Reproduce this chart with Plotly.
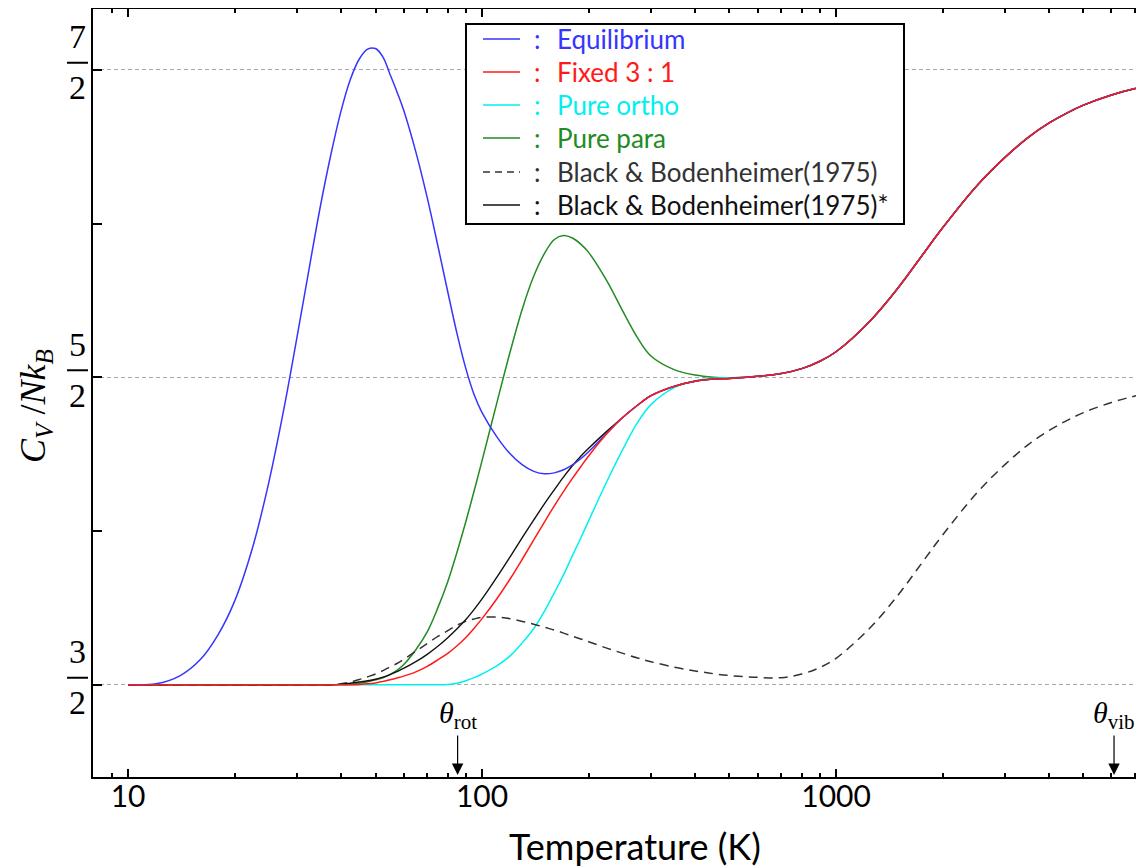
import math
import plotly.graph_objects as go

# ---------------- data ----------------
temperature = [10, 12, 14, 16, 18, 20, 22.5, 25, 27.5, 30, 32.5, 35, 37.5, 40, 42.5, 45, 47.5,
               50, 52.5, 55, 57.5, 60, 65, 70, 75, 80, 85, 90, 95, 100, 110, 120, 130, 140,
               150, 160, 170, 180, 190, 200, 225, 250, 275, 300, 350, 400, 450, 500, 600, 700,
               800, 900, 1000, 1250, 1500, 1750, 2000, 2500, 3000, 3500, 4000, 4500, 5000,
               6000, 7000, 8000]

equilibrium = [1.500, 1.503, 1.529, 1.582, 1.665, 1.772, 1.948, 2.160, 2.392, 2.630, 2.856,
               3.061, 3.230, 3.368, 3.470, 3.535, 3.567, 3.569, 3.541, 3.484, 3.428, 3.370,
               3.233, 3.084, 2.928, 2.778, 2.641, 2.528, 2.443, 2.385, 2.307, 2.251, 2.215,
               2.194, 2.186, 2.189, 2.199, 2.215, 2.235, 2.258, 2.318, 2.370, 2.409, 2.440,
               2.471, 2.487, 2.494, 2.496, 2.503, 2.512, 2.528, 2.552, 2.583, 2.684, 2.792,
               2.896, 2.986, 3.123, 3.215, 3.281, 3.327, 3.360, 3.385, 3.418, 3.439, 3.452]

fixed_3_1 = [1.500, 1.500, 1.500, 1.500, 1.500, 1.500, 1.500, 1.500, 1.500, 1.500, 1.500,
             1.500, 1.500, 1.500, 1.500, 1.501, 1.503, 1.506, 1.511, 1.516, 1.522, 1.528,
             1.542, 1.560, 1.581, 1.602, 1.627, 1.654, 1.684, 1.715, 1.779, 1.844, 1.909,
             1.971, 2.029, 2.082, 2.129, 2.171, 2.209, 2.244, 2.316, 2.370, 2.409, 2.440,
             2.471, 2.487, 2.494, 2.496, 2.503, 2.512, 2.528, 2.552, 2.583, 2.684, 2.792,
             2.896, 2.986, 3.123, 3.215, 3.281, 3.327, 3.360, 3.385, 3.418, 3.439, 3.452]

pure_ortho = [1.500, 1.500, 1.500, 1.500, 1.500, 1.500, 1.500, 1.500, 1.500, 1.500, 1.500,
              1.500, 1.500, 1.500, 1.500, 1.500, 1.500, 1.500, 1.500, 1.500, 1.500, 1.500,
              1.500, 1.500, 1.500, 1.501, 1.505, 1.513, 1.523, 1.535, 1.561, 1.594, 1.637,
              1.683, 1.739, 1.799, 1.858, 1.920, 1.977, 2.033, 2.160, 2.266, 2.353, 2.411,
              2.467, 2.489, 2.497, 2.498, 2.503, 2.512, 2.528, 2.552, 2.583, 2.684, 2.792,
              2.896, 2.986, 3.123, 3.215, 3.281, 3.327, 3.360, 3.385, 3.418, 3.439, 3.452]

pure_para = [1.500, 1.500, 1.500, 1.500, 1.500, 1.500, 1.500, 1.500, 1.500, 1.500, 1.500,
             1.500, 1.500, 1.500, 1.502, 1.505, 1.510, 1.516, 1.523, 1.534, 1.547, 1.565,
             1.614, 1.672, 1.750, 1.835, 1.932, 2.031, 2.131, 2.229, 2.415, 2.582, 2.723,
             2.829, 2.902, 2.948, 2.961, 2.953, 2.933, 2.906, 2.814, 2.714, 2.628, 2.569,
             2.524, 2.507, 2.500, 2.498, 2.503, 2.512, 2.528, 2.552, 2.583, 2.684, 2.792,
             2.896, 2.986, 3.123, 3.215, 3.281, 3.327, 3.360, 3.385, 3.418, 3.439, 3.452]

black_bodenheimer = [1.500, 1.500, 1.500, 1.500, 1.500, 1.500, 1.500, 1.500, 1.500, 1.500,
                     1.500, 1.500, 1.500, 1.503, 1.509, 1.517, 1.526, 1.535, 1.546, 1.558,
                     1.569, 1.582, 1.609, 1.634, 1.657, 1.676, 1.694, 1.706, 1.714, 1.719,
                     1.720, 1.715, 1.706, 1.697, 1.687, 1.678, 1.668, 1.658, 1.649, 1.640,
                     1.619, 1.602, 1.587, 1.575, 1.557, 1.545, 1.536, 1.530, 1.524, 1.523,
                     1.535, 1.556, 1.586, 1.686, 1.793, 1.897, 1.987, 2.124, 2.216, 2.282,
                     2.327, 2.360, 2.385, 2.418, 2.439, 2.452]

black_bodenheimer_star = [1.500, 1.500, 1.500, 1.500, 1.500, 1.500, 1.500, 1.500, 1.500, 1.500,
                          1.500, 1.500, 1.500, 1.502, 1.505, 1.509, 1.513, 1.518, 1.525, 1.533,
                          1.543, 1.553, 1.575, 1.599, 1.625, 1.653, 1.682, 1.712, 1.745, 1.779,
                          1.849, 1.916, 1.979, 2.036, 2.088, 2.134, 2.176, 2.212, 2.243, 2.269,
                          2.324, 2.370, 2.409, 2.440, 2.471, 2.487, 2.494, 2.496, 2.503, 2.512,
                          2.528, 2.552, 2.583, 2.684, 2.792, 2.896, 2.986, 3.123, 3.215, 3.281,
                          3.327, 3.360, 3.385, 3.418, 3.439, 3.452]

theta_rot = 85.3
theta_vib = 6100

x_tick_vals = [10, 100, 1000]
x_tick_text = ["10", "100", "1000"]
x_minor_vals = [9, 20, 30, 40, 50, 60, 70, 80, 90, 200, 300, 400, 500, 600, 700, 800, 900,
                2000, 3000, 4000, 5000, 6000, 7000]
y_tick_vals = [1.5, 2.5, 3.5]
y_tick_frac = [("3", "2"), ("5", "2"), ("7", "2")]
y_minor_vals = [2.0, 3.0]

legend_labels = ["Equilibrium", "Fixed 3 : 1", "Pure ortho", "Pure para",
                 "Black &amp; Bodenheimer(1975)", "Black &amp; Bodenheimer(1975)*"]

for s in (equilibrium, fixed_3_1, pure_ortho, pure_para, black_bodenheimer,
          black_bodenheimer_star):
    assert len(s) == len(temperature), len(s)

# ---------------- styling ----------------
C_BLUE = "#3535ff"
C_RED = "#ff1a1a"
C_CYAN = "#00f0f0"
C_GREEN = "#228b22"
C_BLACK = "#111111"
C_DASH = "#333333"

BODY = 8                       # default page margin of the html body
W, H = 1144 - BODY, 867 - BODY
PLOT_L, PLOT_T, PLOT_R, PLOT_B = 93, 9, 1144, 777   # plot area in page pixels
PW, PH = PLOT_R - PLOT_L, PLOT_B - PLOT_T
x_range = [math.log10(7.96), math.log10(7413)]
y_range = [1.2, 3.6976]


def px2x(px):
    return (px - PLOT_L) / PW


def py2y(py):
    return (PLOT_B - py) / PH


fig = go.Figure()

series = [
    (pure_para, legend_labels[3], C_GREEN, "solid", 1.5),
    (pure_ortho, legend_labels[2], C_CYAN, "solid", 1.5),
    (black_bodenheimer, legend_labels[4], C_DASH, "9px,6px", 1.5),
    (black_bodenheimer_star, legend_labels[5], C_BLACK, "solid", 1.4),
    (equilibrium, legend_labels[0], C_BLUE, "solid", 1.5),
    (fixed_3_1, legend_labels[1], C_RED, "solid", 1.5),
]
for vals, nm, col, dash, w in series:
    fig.add_trace(go.Scatter(
        x=temperature, y=vals, mode="lines", name=nm,
        line=dict(color=col, width=w, dash=dash, shape="spline", smoothing=1.0),
        showlegend=False, hoverinfo="skip"))

shapes = []
annotations = []

# y tick labels as fractions
for val, (num, den) in zip(y_tick_vals, y_tick_frac):
    annotations.append(dict(xref="paper", yref="y", x=px2x(77), y=val, yshift=33,
                            text=num, showarrow=False, xanchor="center", yanchor="middle",
                            font=dict(family="Liberation Serif", size=34, color="black")))
    annotations.append(dict(xref="paper", yref="y", x=px2x(77), y=val, yshift=-18,
                            text=den, showarrow=False, xanchor="center", yanchor="middle",
                            font=dict(family="Liberation Serif", size=34, color="black")))
    shapes.append(dict(type="line", xref="paper", yref="y", x0=px2x(67), x1=px2x(88),
                       y0=val + 7 / 307.5, y1=val + 7 / 307.5,
                       line=dict(color="black", width=2)))

# axis titles
annotations.append(dict(xref="paper", yref="paper", x=px2x(36), y=py2y(406),
                        text="<i>C<sub>V</sub></i> /<i>Nk<sub>B</sub></i>", textangle=-90,
                        showarrow=False, xanchor="center", yanchor="middle",
                        font=dict(family="Liberation Serif", size=36, color="black")))
annotations.append(dict(xref="paper", yref="paper", x=px2x(635), y=py2y(846),
                        text="Temperature (K)", showarrow=False, xanchor="center",
                        yanchor="middle", font=dict(family="Lato", size=36, color="black")))

# theta markers
for tv, lab in [(theta_rot, "rot"), (theta_vib, "vib")]:
    annotations.append(dict(xref="x", yref="y", x=math.log10(tv), y=y_range[0],
                            text="<i>θ</i><sub>" + lab + "</sub>", showarrow=True,
                            arrowhead=2, arrowsize=1.9, arrowwidth=1.2, arrowcolor="black",
                            ax=0, ay=-62, standoff=2,
                            font=dict(family="Liberation Serif", size=30, color="black")))

# legend box
shapes.append(dict(type="rect", xref="paper", yref="paper", x0=px2x(466), x1=px2x(904),
                   y0=py2y(224), y1=py2y(24), line=dict(color="black", width=2),
                   fillcolor="white", layer="above"))
leg_cols = [C_BLUE, C_RED, C_CYAN, C_GREEN, C_DASH, C_BLACK]
leg_dash = ["solid", "solid", "solid", "solid", "7px,5px", "solid"]
leg_rows = [39, 72, 105, 138, 172, 205]
for lab, col, dsh, ry in zip(legend_labels, leg_cols, leg_dash, leg_rows):
    shapes.append(dict(type="line", xref="paper", yref="paper", x0=px2x(483), x1=px2x(520),
                       y0=py2y(ry), y1=py2y(ry), line=dict(color=col, width=1.6, dash=dsh)))
    annotations.append(dict(xref="paper", yref="paper", x=px2x(537), y=py2y(ry), text=":",
                            showarrow=False, xanchor="center", yanchor="middle",
                            font=dict(family="Lato", size=26, color=col)))
    annotations.append(dict(xref="paper", yref="paper", x=px2x(555), y=py2y(ry), text=lab,
                            showarrow=False, xanchor="left", yanchor="middle",
                            font=dict(family="Lato", size=26, color=col)))

fig.update_layout(
    width=W, height=H,
    margin=dict(l=PLOT_L - BODY, r=BODY + W - PLOT_R, t=PLOT_T - BODY, b=BODY + H - PLOT_B,
                autoexpand=False),
    paper_bgcolor="white", plot_bgcolor="white", showlegend=False,
    shapes=shapes, annotations=annotations,
    xaxis=dict(type="log", range=x_range, showline=True, linecolor="black", linewidth=2,
               mirror="allticks", ticks="inside", ticklen=8, tickwidth=1.5, tickcolor="black",
               tickmode="array", tickvals=x_tick_vals, ticktext=x_tick_text,
               tickfont=dict(family="Lato", size=30, color="black"), showgrid=False,
               zeroline=False, ticklabelstandoff=-8,
               minor=dict(ticks="inside", ticklen=4, tickwidth=1.5, tickcolor="black",
                          tickmode="array", tickvals=x_minor_vals, showgrid=False)),
    yaxis=dict(range=y_range, showline=True, linecolor="black", linewidth=2, mirror=False,
               ticks="inside", ticklen=9, tickwidth=1.5, tickcolor="black",
               tickmode="array", tickvals=y_tick_vals, showticklabels=False,
               showgrid=True, gridcolor="#a8a8a8", gridwidth=1, griddash="4px,3px",
               zeroline=False,
               minor=dict(ticks="inside", ticklen=9, tickwidth=1.5, tickcolor="black",
                          tickmode="array", tickvals=y_minor_vals, showgrid=False)),
)

fig.write_html("out.html")
